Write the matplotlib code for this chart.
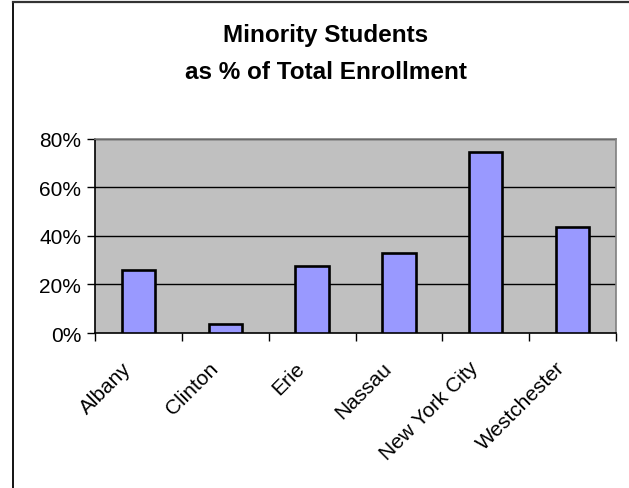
import matplotlib
matplotlib.use("Agg")
import matplotlib.pyplot as plt
from matplotlib.lines import Line2D
from matplotlib.transforms import ScaledTranslation
import numpy as np

plt.rcParams['font.family'] = ['Liberation Sans', 'DejaVu Sans']

categories = ["Albany", "Clinton", "Erie", "Nassau", "New York City", "Westchester"]
values = [26, 3.7, 27.5, 33, 74.6, 43.8]
yticks = [0, 20, 40, 60, 80]
ytick_labels = ["0%", "20%", "40%", "60%", "80%"]
title = "Minority Students\nas % of Total Enrollment"

W, H = 629, 489
fig = plt.figure(figsize=(W/100, H/100), dpi=100)
fig.patch.set_facecolor("white")

# outer chart border (only top/left visible)
fig.add_artist(Line2D([12.5/W, 12.5/W], [0, 1 - 3/H], transform=fig.transFigure, color="black", lw=1.3))
fig.add_artist(Line2D([12.5/W, 1], [1 - 3/H, 1 - 3/H], transform=fig.transFigure, color="#333333", lw=1.6))

ax = fig.add_axes([95/W, 1 - 334/H, (616 - 95)/W, (334 - 139.6)/H])
ax.set_facecolor("#C0C0C0")
x = np.arange(len(categories))
ax.bar(x, values, width=0.385, color="#9999FF", edgecolor="black", linewidth=1.9, zorder=3)
ax.set_xlim(-0.5, len(categories) - 0.5)
ax.set_ylim(0, 80)
ax.set_yticks(yticks)
ax.set_yticklabels(ytick_labels, fontsize=15)
for yv in yticks[1:]:
    ax.axhline(yv, color="black", lw=1, zorder=1)

ax.set_xticks(np.arange(-0.5, len(categories), 1.0))
ax.set_xticklabels([])
ax.tick_params(axis="x", which="major", direction="out", length=6, width=1, color="black")
ax.tick_params(axis="y", direction="out", length=6, width=1, color="black", pad=4)

# category labels, rotated 45 degrees, anchored below each category centre
offset = ScaledTranslation(-0.17, -0.25, fig.dpi_scale_trans)
for xi, name in zip(x, categories):
    ax.text(xi, 0, name, transform=ax.get_xaxis_transform() + offset,
            rotation=45, ha="right", va="top", rotation_mode="anchor",
            fontsize=15, clip_on=False)

for s in ["left", "bottom"]:
    ax.spines[s].set_color("black")
    ax.spines[s].set_linewidth(1.2)
for s in ["top", "right"]:
    ax.spines[s].set_color("#808080")
    ax.spines[s].set_linewidth(1.2)

fig.text(326/W, 1 - 54/H, title, ha="center", va="center", fontsize=17.5,
         fontweight="bold", linespacing=1.75)

fig.savefig("out.png", dpi=100, facecolor="white")
